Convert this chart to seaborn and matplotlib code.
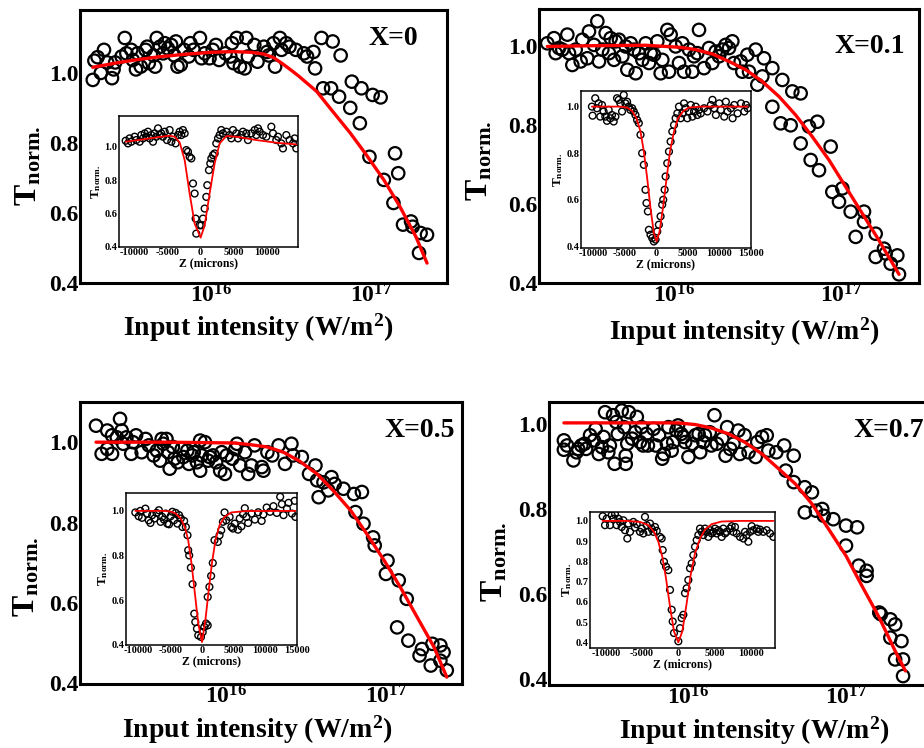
import matplotlib
matplotlib.use('Agg')
import matplotlib.pyplot as plt
from matplotlib.ticker import NullLocator
import seaborn as sns
import numpy as np

# ---- main panels: (log10 of input intensity [W/m^2], normalised transmittance)
p1_points = [
    (15.26, 0.98), (15.27, 1.035), (15.29, 1.045), (15.33, 1.066), (15.31, 1.00), (15.35, 1.03),
    (15.38, 0.985), (15.39, 1.01), (15.40, 1.03), (15.44, 1.047), (15.46, 1.10), (15.47, 1.056),
    (15.50, 1.066), (15.51, 1.037), (15.53, 1.01), (15.54, 1.056), (15.56, 1.018), (15.59, 1.066),
    (15.60, 1.075), (15.61, 1.028), (15.64, 1.05), (15.65, 1.018), (15.66, 1.10), (15.68, 1.075),
    (15.70, 1.056), (15.71, 1.085), (15.73, 1.07), (15.75, 1.08), (15.77, 1.05), (15.78, 1.09),
    (15.79, 1.018), (15.81, 1.023), (15.83, 1.066), (15.86, 1.047), (15.87, 1.085), (15.89, 1.066),
    (15.93, 1.10), (15.94, 1.042), (15.96, 1.056), (15.99, 1.042), (16.01, 1.066), (16.03, 1.08),
    (16.05, 1.037), (16.09, 1.056), (16.12, 1.047), (16.13, 1.085), (16.14, 1.028), (16.16, 1.10),
    (16.18, 1.018), (16.21, 1.013), (16.22, 1.10), (16.23, 1.047), (16.27, 1.08), (16.29, 1.032),
    (16.33, 1.075), (16.35, 1.06), (16.36, 1.05), (16.39, 1.085), (16.40, 1.018), (16.43, 1.10),
    (16.44, 1.066), (16.47, 1.085), (16.49, 1.075), (16.53, 1.066), (16.58, 1.056), (16.60, 1.047),
    (16.64, 1.06), (16.65, 1.013), (16.69, 1.10), (16.70, 0.956), (16.75, 0.956), (16.76, 1.09),
    (16.80, 0.932), (16.81, 1.05), (16.87, 0.90), (16.88, 0.975), (16.93, 0.856), (16.94, 0.956),
    (16.99, 0.76), (17.01, 0.937), (17.06, 0.93), (17.08, 0.694), (17.14, 0.628), (17.15, 0.77),
    (17.17, 0.713), (17.20, 0.566), (17.25, 0.575), (17.26, 0.56), (17.30, 0.485), (17.31, 0.542),
    (17.35, 0.537),
]
p1_fit = [
    (15.26, 1.016), (15.40, 1.028), (15.51, 1.036), (15.67, 1.046), (15.83, 1.053), (16.00, 1.059),
    (16.14, 1.061), (16.25, 1.059), (16.33, 1.054), (16.39, 1.044), (16.45, 1.025), (16.50, 1.008),
    (16.55, 0.99), (16.66, 0.947), (16.76, 0.89), (16.87, 0.828), (16.97, 0.766), (17.08, 0.694),
    (17.18, 0.618), (17.28, 0.532), (17.35, 0.456),
]

p2_points = [
    (15.24, 1.008), (15.28, 1.021), (15.29, 0.983), (15.31, 0.996), (15.33, 0.992), (15.36, 1.03),
    (15.37, 0.983), (15.39, 0.953), (15.41, 0.992), (15.44, 0.962), (15.45, 1.017), (15.48, 0.97),
    (15.49, 1.038), (15.52, 1.004), (15.54, 1.064), (15.55, 0.962), (15.57, 0.992), (15.59, 1.034),
    (15.61, 0.983), (15.62, 1.021), (15.64, 0.966), (15.65, 1.013), (15.67, 1.017), (15.69, 0.975),
    (15.71, 1.0), (15.72, 0.941), (15.74, 1.008), (15.76, 0.992), (15.77, 0.932), (15.79, 0.983),
    (15.81, 0.966), (15.83, 1.008), (15.85, 0.958), (15.86, 0.983), (15.88, 0.979), (15.90, 1.013),
    (15.92, 0.932), (15.93, 0.966), (15.96, 1.042), (15.97, 0.936), (15.98, 1.03), (16.01, 1.0),
    (16.03, 0.958), (16.05, 1.008), (16.06, 0.936), (16.09, 0.992), (16.11, 0.936), (16.12, 0.975),
    (16.14, 0.983), (16.15, 1.042), (16.18, 0.945), (16.21, 0.996), (16.23, 0.958), (16.25, 0.987),
    (16.27, 0.975), (16.29, 0.992), (16.31, 1.004), (16.33, 0.996), (16.35, 1.013), (16.36, 0.958),
    (16.40, 0.962), (16.41, 0.936), (16.44, 0.979), (16.45, 0.936), (16.49, 0.992), (16.50, 0.903),
    (16.53, 0.924), (16.54, 0.97), (16.59, 0.945), (16.59, 0.847), (16.64, 0.805), (16.65, 0.915),
    (16.70, 0.80), (16.71, 0.886), (16.76, 0.881), (16.76, 0.754), (16.81, 0.797), (16.82, 0.712),
    (16.86, 0.809), (16.87, 0.686), (16.94, 0.746), (16.95, 0.631), (16.99, 0.606), (17.01, 0.64),
    (17.06, 0.581), (17.09, 0.517), (17.14, 0.581), (17.14, 0.555), (17.21, 0.525), (17.21, 0.466),
    (17.26, 0.487), (17.27, 0.475), (17.30, 0.449), (17.34, 0.47), (17.35, 0.422),
]
p2_fit = [
    (15.24, 1.0), (15.53, 1.002), (15.83, 1.003), (16.03, 0.998), (16.13, 0.992), (16.23, 0.981),
    (16.33, 0.962), (16.43, 0.941), (16.53, 0.911), (16.63, 0.873), (16.73, 0.826), (16.83, 0.771),
    (16.93, 0.712), (17.03, 0.644), (17.13, 0.576), (17.23, 0.508), (17.35, 0.422),
]

p3_points = [
    (15.19, 1.041), (15.225, 0.971), (15.26, 1.029), (15.26, 0.983), (15.29, 1.017), (15.29, 0.971),
    (15.32, 1.012), (15.34, 1.058), (15.35, 1.029), (15.36, 0.996), (15.38, 1.012), (15.41, 0.971),
    (15.42, 1.0), (15.44, 1.017), (15.475, 0.975), (15.50, 1.008), (15.52, 0.992), (15.55, 0.967),
    (15.57, 0.979), (15.59, 0.954), (15.60, 1.008), (15.61, 0.996), (15.63, 1.008), (15.64, 0.975),
    (15.65, 0.934), (15.67, 0.988), (15.68, 0.959), (15.70, 0.95), (15.725, 0.983), (15.735, 0.963),
    (15.76, 0.979), (15.77, 0.946), (15.79, 0.967), (15.80, 0.975), (15.82, 0.95), (15.84, 0.929),
    (15.84, 1.004), (15.85, 0.967), (15.87, 1.0), (15.89, 0.954), (15.90, 0.963), (15.92, 0.967),
    (15.94, 0.95), (15.965, 0.929), (15.975, 0.975), (15.995, 0.921), (16.006, 0.967), (16.04, 0.959),
    (16.06, 0.983), (16.07, 0.996), (16.09, 0.942), (16.12, 0.975), (16.14, 0.921), (16.16, 0.942),
    (16.18, 0.992), (16.225, 0.938), (16.235, 0.929), (16.26, 0.975), (16.29, 0.967), (16.33, 0.992),
    (16.37, 0.946), (16.41, 0.996), (16.42, 0.967), (16.475, 0.963), (16.52, 0.921), (16.56, 0.942),
    (16.57, 0.905), (16.58, 0.863), (16.61, 0.90), (16.64, 0.88), (16.66, 0.913), (16.68, 0.896),
    (16.735, 0.884), (16.80, 0.871), (16.81, 0.826), (16.85, 0.876), (16.86, 0.797), (16.92, 0.763),
    (16.93, 0.743), (17.00, 0.672), (17.01, 0.705), (17.07, 0.539), (17.08, 0.656), (17.13, 0.61),
    (17.14, 0.506), (17.21, 0.469), (17.225, 0.485), (17.28, 0.444), (17.29, 0.498), (17.34, 0.456),
    (17.34, 0.494), (17.36, 0.477), (17.38, 0.432),
]
p3_fit = [
    (15.19, 1.0), (15.63, 1.0), (16.05, 0.998), (16.15, 0.994), (16.26, 0.988), (16.36, 0.975),
    (16.46, 0.953), (16.57, 0.921), (16.67, 0.88), (16.78, 0.83), (16.88, 0.772), (16.99, 0.705),
    (17.09, 0.639), (17.19, 0.568), (17.30, 0.49), (17.38, 0.415),
]

p4_points = [
    (15.22, 0.961), (15.22, 0.939), (15.24, 0.949), (15.28, 0.914), (15.30, 0.933), (15.31, 0.941),
    (15.33, 0.949), (15.35, 0.953), (15.36, 0.941), (15.385, 0.973), (15.41, 0.961), (15.42, 0.988),
    (15.44, 0.929), (15.46, 0.945), (15.47, 0.969), (15.48, 1.027), (15.50, 0.933), (15.51, 0.949),
    (15.53, 1.02), (15.54, 0.906), (15.55, 1.004), (15.56, 0.976), (15.585, 1.031), (15.60, 0.992),
    (15.61, 0.925), (15.61, 0.906), (15.62, 0.953), (15.63, 1.027), (15.65, 0.965), (15.67, 0.98),
    (15.68, 1.016), (15.70, 0.957), (15.71, 0.992), (15.72, 0.949), (15.74, 0.976), (15.75, 0.949),
    (15.785, 0.988), (15.80, 0.949), (15.82, 0.973), (15.84, 0.918), (15.85, 0.929), (15.87, 0.953),
    (15.88, 0.992), (15.90, 0.937), (15.91, 0.957), (15.93, 0.984), (15.94, 0.996), (15.96, 0.976),
    (15.975, 0.969), (15.985, 0.957), (16.006, 0.922), (16.03, 0.953), (16.05, 0.973), (16.07, 0.976),
    (16.08, 0.933), (16.10, 0.957), (16.11, 0.973), (16.14, 0.98), (16.15, 0.949), (16.17, 1.02),
    (16.185, 0.953), (16.22, 0.965), (16.24, 0.925), (16.25, 0.992), (16.27, 0.941), (16.29, 0.953),
    (16.32, 0.984), (16.33, 0.929), (16.36, 0.973), (16.385, 0.933), (16.43, 0.922), (16.44, 0.957),
    (16.47, 0.969), (16.50, 0.973), (16.51, 0.937), (16.56, 0.933), (16.61, 0.949), (16.62, 0.89),
    (16.67, 0.863), (16.67, 0.925), (16.74, 0.792), (16.74, 0.851), (16.785, 0.839), (16.81, 0.796),
    (16.85, 0.80), (16.86, 0.784), (16.92, 0.776), (17.00, 0.761), (17.00, 0.714), (17.07, 0.757),
    (17.08, 0.667), (17.13, 0.655), (17.13, 0.643), (17.21, 0.557), (17.22, 0.553), (17.28, 0.541),
    (17.31, 0.529), (17.28, 0.498), (17.35, 0.49), (17.31, 0.447), (17.36, 0.447), (17.36, 0.408),
]
p4_fit = [
    (15.22, 1.002), (15.63, 1.002), (15.94, 1.002), (16.05, 0.998), (16.15, 0.99), (16.26, 0.976),
    (16.36, 0.957), (16.47, 0.929), (16.57, 0.896), (16.68, 0.859), (16.785, 0.812), (16.89, 0.753),
    (17.00, 0.69), (17.10, 0.62), (17.21, 0.545), (17.31, 0.467), (17.375, 0.42),
]

# ---- insets: (Z in microns, normalised transmittance)
i1_points = [
    (-11360, 1.036), (-11010, 1.02), (-10760, 1.05), (-10500, 1.03), (-10000, 1.06), (-9750, 1.04),
    (-9240, 1.03), (-8990, 1.07), (-8740, 1.05), (-8480, 1.08), (-8230, 1.06), (-7980, 1.09),
    (-7730, 1.05), (-7470, 1.07), (-7220, 1.03), (-6970, 1.08), (-6720, 1.06), (-6460, 1.11),
    (-6210, 1.07), (-5960, 1.08), (-5710, 1.06), (-5450, 1.09), (-5100, 1.04), (-4700, 1.10),
    (-4440, 1.03), (-4190, 1.06), (-3790, 1.02), (-3430, 1.07), (-3180, 1.09), (-2930, 1.07),
    (-2680, 1.10), (-2420, 1.08), (-2170, 0.98), (-1920, 0.97), (-1670, 0.94), (-1410, 0.93),
    (-1160, 0.78), (-910, 0.72), (-760, 0.57), (-660, 0.48), (-150, 0.53), (100, 0.53),
    (350, 0.57), (610, 0.63), (860, 0.70), (1010, 0.77), (1260, 0.86), (1460, 0.90),
    (1620, 0.93), (1870, 0.95), (2120, 0.96), (2370, 1.02), (2630, 1.05), (2880, 1.07),
    (3130, 1.10), (3380, 1.08), (3890, 1.09), (4390, 1.07), (4650, 1.05), (4900, 1.10),
    (5400, 1.08), (5660, 1.05), (6160, 1.07), (6410, 1.09), (6920, 1.08), (7170, 1.04),
    (7680, 1.08), (8180, 1.10), (8430, 1.07), (8690, 1.11), (8940, 1.09), (9440, 1.07),
    (9950, 1.06), (10710, 1.12), (10960, 1.08), (11460, 1.04), (11720, 1.06), (12220, 1.02),
    (12470, 0.99), (12980, 1.07), (13480, 1.04), (13990, 1.02), (14240, 1.05), (14490, 0.99),
]
i1_fit = [
    (-11360, 1.03), (-8740, 1.044), (-6720, 1.056), (-4700, 1.066), (-3940, 1.06), (-3180, 1.026),
    (-2420, 0.92), (-1670, 0.72), (-910, 0.54), (0, 0.456), (610, 0.53), (1360, 0.72),
    (2120, 0.90), (2880, 1.02), (3890, 1.064), (5400, 1.06), (8430, 1.04), (11460, 1.024),
    (14490, 1.014),
]

i2_points = [
    (-10270, 1.0), (-10160, 0.961), (-9740, 1.036), (-9470, 0.993), (-9200, 1.014), (-8940, 0.957),
    (-8670, 1.007), (-8410, 0.979), (-8140, 0.957), (-7870, 0.939), (-7610, 0.986), (-7340, 0.95),
    (-7080, 0.964), (-6810, 0.936), (-6540, 0.957), (-6280, 1.036), (-6010, 1.029), (-5750, 1.014),
    (-5480, 0.979), (-5210, 1.05), (-4950, 1.014), (-4680, 1.021), (-4420, 1.0), (-4150, 0.986),
    (-3880, 0.993), (-3620, 0.979), (-3350, 0.964), (-3090, 0.943), (-2820, 0.929), (-2550, 0.879),
    (-2290, 0.80), (-2020, 0.75), (-1760, 0.643), (-1600, 0.586), (-1380, 0.55), (-1220, 0.471),
    (-960, 0.45), (-690, 0.436), (-430, 0.421), (-160, 0.429), (110, 0.464), (370, 0.493),
    (640, 0.529), (900, 0.579), (1060, 0.60), (1280, 0.643), (1440, 0.70), (1700, 0.757),
    (1970, 0.807), (2230, 0.85), (2500, 0.893), (2770, 0.921), (3030, 0.95), (3300, 0.971),
    (3560, 1.0), (3830, 0.95), (4100, 0.971), (4360, 1.014), (4630, 0.993), (4890, 0.95),
    (5160, 0.979), (5430, 1.007), (5690, 0.957), (5960, 0.979), (6220, 1.0), (6490, 0.964),
    (6760, 0.986), (7020, 0.971), (7550, 0.993), (8090, 0.979), (8620, 1.007), (8880, 1.029),
    (9150, 0.993), (9420, 0.964), (9950, 1.014), (10210, 0.986), (10750, 0.957), (11010, 1.021),
    (11280, 0.979), (11810, 0.993), (12080, 0.95), (12340, 1.007), (12870, 0.971), (13410, 1.014),
    (13940, 0.979), (14200, 1.007), (14470, 0.993),
]
i2_fit = [
    (-10270, 1.0), (-5750, 1.0), (-4680, 0.996), (-3880, 0.981), (-3190, 0.95), (-2550, 0.893),
    (-2020, 0.807), (-1490, 0.693), (-960, 0.564), (-430, 0.457), (0, 0.421), (480, 0.464),
    (1010, 0.564), (1600, 0.693), (2130, 0.807), (2770, 0.893), (3400, 0.95), (4260, 0.981),
    (5160, 0.996), (7020, 1.0), (14470, 1.0),
]

i3_points = [
    (-10530, 0.993), (-10000, 0.976), (-9740, 1.0), (-9470, 0.969), (-8940, 1.01), (-8670, 0.988),
    (-8410, 0.958), (-8140, 0.946), (-7870, 0.981), (-7500, 0.966), (-7180, 0.991), (-6810, 1.003),
    (-6540, 0.951), (-6280, 0.973), (-6010, 0.961), (-5750, 0.988), (-5480, 0.943), (-5210, 0.94),
    (-4950, 0.976), (-4680, 0.996), (-4420, 0.958), (-4150, 0.991), (-3880, 0.943), (-3620, 0.981),
    (-3350, 0.966), (-3090, 0.928), (-2820, 0.955), (-2550, 0.928), (-2290, 0.891), (-2180, 0.824),
    (-2020, 0.801), (-1760, 0.746), (-1490, 0.672), (-1220, 0.54), (-1060, 0.503), (-800, 0.473),
    (-590, 0.443), (-160, 0.436), (110, 0.458), (370, 0.481), (640, 0.496), (900, 0.488),
    (900, 0.615), (1170, 0.66), (1440, 0.709), (1700, 0.767), (1970, 0.869), (2500, 0.861),
    (2770, 0.891), (3030, 0.913), (3300, 0.951), (3560, 0.993), (3830, 0.958), (4360, 0.973),
    (4630, 0.928), (4890, 0.921), (5160, 0.943), (5690, 0.916), (5960, 0.966), (6220, 0.931),
    (6490, 0.985), (6760, 1.012), (7020, 0.973), (7290, 0.946), (7820, 0.988), (8350, 0.961),
    (8880, 0.994), (9420, 0.955), (9680, 0.984), (10210, 1.015), (10750, 0.996), (11280, 1.021),
    (11810, 0.991), (12340, 1.063), (12610, 1.03), (12870, 0.981), (13410, 1.01), (13670, 1.036),
    (14200, 0.988), (14630, 1.045), (14740, 0.973),
]
i3_fit = [
    (-10530, 1.0), (-6010, 1.0), (-4950, 0.997), (-4150, 0.988), (-3350, 0.966), (-2710, 0.928),
    (-2180, 0.869), (-1650, 0.764), (-1120, 0.63), (-590, 0.496), (0, 0.413), (530, 0.51),
    (1060, 0.645), (1600, 0.772), (2130, 0.869), (2770, 0.936), (3560, 0.973), (4630, 0.993),
    (6760, 0.999), (14740, 1.0),
]

i4_points = [
    (-10440, 1.023), (-10120, 0.979), (-9890, 1.011), (-9430, 0.979), (-9200, 1.028), (-8970, 1.011),
    (-8740, 1.033), (-8510, 0.979), (-8280, 1.011), (-8050, 0.995), (-7820, 0.97), (-7590, 1.003),
    (-7360, 0.954), (-7040, 0.913), (-6900, 0.987), (-6670, 0.946), (-6210, 0.995), (-5980, 0.967),
    (-5750, 0.984), (-5290, 0.946), (-5060, 0.962), (-4830, 0.938), (-4600, 1.02), (-4370, 0.979),
    (-4140, 0.946), (-3910, 0.987), (-3680, 0.962), (-3450, 0.946), (-3220, 0.97), (-2990, 0.951),
    (-2530, 0.921), (-2300, 0.913), (-2160, 0.856), (-1980, 0.798), (-1700, 0.774), (-1380, 0.757),
    (-1150, 0.659), (-920, 0.561), (-780, 0.503), (-600, 0.446), (0, 0.405), (230, 0.47),
    (460, 0.52), (690, 0.536), (920, 0.643), (1150, 0.667), (1380, 0.708), (1610, 0.766),
    (1840, 0.79), (2070, 0.831), (2300, 0.872), (2530, 0.905), (2760, 0.93), (2990, 0.962),
    (3220, 0.946), (3450, 0.93), (3680, 0.962), (3910, 0.946), (4140, 0.921), (4370, 0.954),
    (4600, 0.938), (4830, 0.946), (5060, 0.962), (5290, 0.938), (5520, 0.954), (5750, 0.946),
    (5980, 0.921), (6210, 0.962), (6440, 0.938), (6670, 0.946), (7130, 0.962), (7360, 0.974),
    (7590, 0.946), (7820, 0.97), (8050, 0.938), (8510, 0.921), (8970, 0.913), (9200, 0.946),
    (9430, 0.93), (9660, 0.897), (9890, 0.946), (10120, 0.974), (10350, 0.954), (10810, 0.962),
    (11040, 0.946), (11270, 0.957), (11730, 0.946), (12190, 0.954), (12650, 0.938), (13110, 0.921),
]
i4_fit = [
    (-10440, 1.0), (-7130, 1.0), (-5290, 0.995), (-4140, 0.979), (-3360, 0.946), (-2760, 0.897),
    (-2210, 0.823), (-1700, 0.716), (-1150, 0.577), (-600, 0.454), (0, 0.40), (550, 0.454),
    (1150, 0.593), (1700, 0.733), (2300, 0.839), (2990, 0.913), (3680, 0.957), (4600, 0.984),
    (5980, 0.997), (8510, 1.0), (13110, 1.0),
]

panel_tags = ['X=0', 'X=0.1', 'X=0.5', 'X=0.7']

# ---- style
sns.set_style('white')
plt.rcParams['font.family'] = ['Liberation Serif', 'DejaVu Serif']
plt.rcParams['font.weight'] = 'bold'
plt.rcParams['text.color'] = 'black'
plt.rcParams['axes.labelcolor'] = 'black'
plt.rcParams['xtick.color'] = 'black'
plt.rcParams['ytick.color'] = 'black'
plt.rcParams['mathtext.fontset'] = 'custom'
plt.rcParams['mathtext.rm'] = 'Liberation Serif'
plt.rcParams['mathtext.bf'] = 'Liberation Serif:bold'
plt.rcParams['mathtext.it'] = 'Liberation Serif:italic'

W, H = 924, 748
fig = plt.figure(figsize=(W / 100, H / 100), dpi=100)
fig.patch.set_facecolor('white')


def px_axes(left, right, top, bottom):
    return fig.add_axes([left / W, 1 - bottom / H, (right - left) / W, (bottom - top) / H])


def draw_main(box, xlim, ylim, points, fit, tag, tag_xy, ylab_xy, xlab_xy):
    ax = px_axes(*box)
    ax.set_xscale('log')
    lx, ty = zip(*points)
    sns.scatterplot(x=10 ** np.array(lx), y=ty, ax=ax, s=80, marker='o',
                    facecolors='none', edgecolor='black', linewidth=1.6, zorder=2)
    fx, fy = zip(*fit)
    sns.lineplot(x=10 ** np.array(fx), y=fy, ax=ax, color='red', linewidth=2.4,
                 sort=False, estimator=None, zorder=3)
    ax.set_xlim(10 ** xlim[0], 10 ** xlim[1])
    ax.set_ylim(*ylim)
    ax.set_xticks([1e16, 1e17])
    ax.set_xticklabels([r'$\mathbf{10}^{16}$', r'$\mathbf{10}^{17}$'])
    ax.xaxis.set_minor_locator(NullLocator())
    ax.set_yticks([0.4, 0.6, 0.8, 1.0])
    ax.set_yticklabels(['0.4', '0.6', '0.8', '1.0'])
    ax.tick_params(axis='both', length=0, labelsize=17, colors='black')
    ax.tick_params(axis='y', pad=1)
    ax.tick_params(axis='x', pad=1)
    for sp in ax.spines.values():
        sp.set_visible(True)
        sp.set_color('black')
        sp.set_linewidth(2.2)
    ax.set_xlabel(r'Input intensity (W/m$^{\mathbf{2}}$)', fontsize=20,
                  fontweight='bold', color='black')
    ax.xaxis.set_label_coords(*xlab_xy)
    ax.set_ylabel(r'$\mathbf{T}_{\mathbf{norm.}}$', fontsize=23, color='black')
    ax.yaxis.set_label_coords(*ylab_xy)
    ax.text(tag_xy[0], tag_xy[1], tag, transform=ax.transAxes, ha='right',
            va='baseline', fontsize=20, fontweight='bold', color='black')
    return ax


def draw_inset(box, xlim, ylim, xticks, yticks, points, fit):
    ax = px_axes(*box)
    ax.set_facecolor('white')
    zx, ty = zip(*points)
    sns.scatterplot(x=zx, y=ty, ax=ax, s=24, marker='o', facecolors='none',
                    edgecolor='black', linewidth=1.0, zorder=2)
    fx, fy = zip(*fit)
    sns.lineplot(x=fx, y=fy, ax=ax, color='red', linewidth=1.3, sort=False,
                 estimator=None, zorder=3)
    ax.set_xlim(*xlim)
    ax.set_ylim(*ylim)
    ax.set_xticks(xticks)
    ax.set_xticklabels([str(v) for v in xticks])
    ax.set_yticks(yticks)
    ax.set_yticklabels([f'{v:.1f}' for v in yticks])
    ax.tick_params(axis='both', length=0, labelsize=7.5, pad=1, colors='black')
    for sp in ax.spines.values():
        sp.set_visible(True)
        sp.set_color('black')
        sp.set_linewidth(1.1)
    ax.set_xlabel('Z (microns)', fontsize=8.5, fontweight='bold', labelpad=0, color='black')
    ax.set_ylabel(r'$\mathbf{T}_{\mathbf{norm.}}$', fontsize=9.5, labelpad=1, color='black')
    return ax


draw_main((80, 447, 10, 283), (15.18, 17.475), (0.399, 1.18), p1_points, p1_fit,
          panel_tags[0], (0.92, 0.872), (-0.10, 0.43), (0.485, -0.106))
draw_main((539, 919, 9, 283), (15.19, 17.47), (0.40, 1.095), p2_points, p2_fit,
          panel_tags[1], (0.963, 0.839), (-0.116, 0.445), (0.539, -0.117))
draw_main((80, 462, 402, 684), (15.09, 17.475), (0.398, 1.10), p3_points, p3_fit,
          panel_tags[2], (0.982, 0.876), (-0.10, 0.38), (0.463, -0.104))
draw_main((549, 930, 402, 685), (15.126, 17.53), (0.387, 1.051), p4_points, p4_fit,
          panel_tags[3], (0.984, 0.876), (-0.104, 0.435), (0.538, -0.104))

draw_inset((119, 298, 116, 247), (-12370, 14750), (0.40, 1.184),
           [-10000, -5000, 0, 5000, 10000], [0.4, 0.6, 0.8, 1.0], i1_points, i1_fit)
draw_inset((581, 751, 91, 248), (-12000, 15000), (0.393, 1.067),
           [-10000, -5000, 0, 5000, 10000, 15000], [0.4, 0.6, 0.8, 1.0], i2_points, i2_fit)
draw_inset((126, 297, 493, 645), (-12000, 15000), (0.40, 1.08),
           [-10000, -5000, 0, 5000, 10000, 15000], [0.4, 0.6, 0.8, 1.0], i3_points, i3_fit)
draw_inset((590, 775, 512, 648), (-12190, 13340), (0.372, 1.044),
           [-10000, -5000, 0, 5000, 10000], [0.4, 0.5, 0.6, 0.7, 0.8, 0.9, 1.0],
           i4_points, i4_fit)

fig.savefig('out.png', dpi=100)
